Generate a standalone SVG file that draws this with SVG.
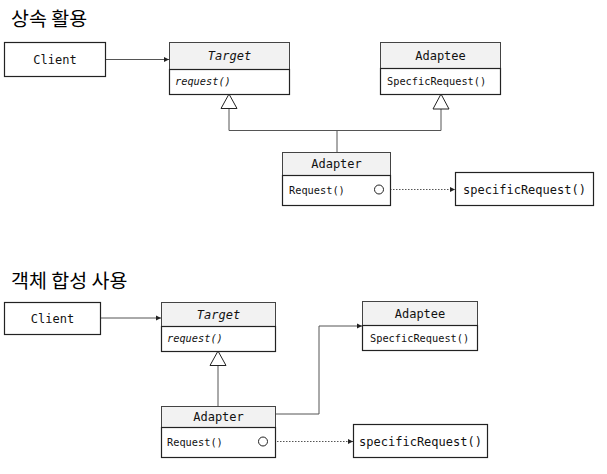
<svg xmlns="http://www.w3.org/2000/svg" width="607" height="474" viewBox="0 0 607 474">
<style>
.title{font-family:"Noto Sans CJK KR","Noto Sans",sans-serif;font-size:19.5px;fill:#000}
.box{fill:#fff;stroke:#222;stroke-width:1.2}
.hdr{fill:#f2f2f2;stroke:#444;stroke-width:1}
.div{stroke:#444;stroke-width:1}
.t12{font-family:"DejaVu Sans Mono","Liberation Mono",monospace;font-size:12px;fill:#111}
.t10{font-family:"DejaVu Sans Mono","Liberation Mono",monospace;font-size:10.3px;fill:#111}
.it{font-style:italic}
.mid{text-anchor:middle}
.conn{fill:none;stroke:#555;stroke-width:1}
.dot{fill:none;stroke:#555;stroke-width:1;stroke-dasharray:1.5 1.5}
.tri{fill:#fff;stroke:#222;stroke-width:1}
.circ{fill:#fff;stroke:#222;stroke-width:1}
</style>
<defs>
<marker id="arr" markerWidth="6" markerHeight="6" refX="5" refY="3" orient="auto" markerUnits="userSpaceOnUse">
<path d="M0,0.5 L5,3 L0,5.5 Z" fill="#222"/>
</marker>
</defs>
<rect width="607" height="474" fill="#fff"/>

<text class="title" x="11" y="25.5">상속 활용</text>
<text class="title" x="11" y="287.5">객체 합성 사용</text>

<g id="connectors">
<!-- top -->
<line class="conn" x1="106" y1="59.5" x2="169" y2="59.5" marker-end="url(#arr)"/>
<polyline class="conn" points="229,108 229,130.5 441,130.5 441,109"/>
<line class="conn" x1="337" y1="130.5" x2="337" y2="152"/>
<polygon class="tri" points="229,94 221,108.5 237,108.5"/>
<polygon class="tri" points="441,94 433,109 449,109"/>
<line class="dot" x1="384" y1="189.5" x2="455" y2="189.5" marker-end="url(#arr)"/>
<!-- bottom -->
<line class="conn" x1="100" y1="318" x2="161" y2="318" marker-end="url(#arr)"/>
<line class="conn" x1="218" y1="365" x2="218" y2="406"/>
<polygon class="tri" points="218,351 210,365.5 226,365.5"/>
<polyline class="conn" points="275,414 319,414 319,326 362,326" marker-end="url(#arr)"/>
<line class="dot" x1="268" y1="441.5" x2="353" y2="441.5" marker-end="url(#arr)"/>
</g>

<g id="client1">
<rect class="box" x="4.5" y="42.5" width="101" height="34"/>
<text class="t12 mid" x="55" y="63.5">Client</text>
</g>
<g id="target1">
<rect class="hdr" x="169.5" y="42.5" width="120" height="27"/>
<rect class="box" x="169.5" y="69.5" width="120" height="25"/>
<text class="t12 mid it" x="229.5" y="60">Target</text>
<text class="t10 it" x="175" y="85">request()</text>
</g>
<g id="adaptee1">
<rect class="hdr" x="380.5" y="42.5" width="120" height="26"/>
<rect class="box" x="380.5" y="68.5" width="120" height="26"/>
<text class="t12 mid" x="440.5" y="59.5">Adaptee</text>
<text class="t10" x="387" y="85">SpecficRequest()</text>
</g>
<g id="adapter1">
<rect class="hdr" x="282.5" y="152.5" width="108" height="23"/>
<rect class="box" x="282.5" y="175.5" width="108" height="30"/>
<text class="t12 mid" x="336.5" y="168">Adapter</text>
<text class="t10" x="289" y="194">Request()</text>
<circle class="circ" cx="379" cy="189.5" r="4.5"/>
</g>
<g id="specific1">
<rect class="box" x="455.5" y="172.5" width="138" height="33"/>
<text class="t12 mid" x="524.5" y="193.5">specificRequest()</text>
</g>

<g id="client2">
<rect class="box" x="4.5" y="302.5" width="96" height="32"/>
<text class="t12 mid" x="52.5" y="322.5">Client</text>
</g>
<g id="target2">
<rect class="hdr" x="161.5" y="302.5" width="114" height="24"/>
<rect class="box" x="161.5" y="326.5" width="114" height="25"/>
<text class="t12 mid it" x="218.5" y="318.5">Target</text>
<text class="t10 it" x="167" y="342">request()</text>
</g>
<g id="adaptee2">
<rect class="hdr" x="362.5" y="301.5" width="115" height="24"/>
<rect class="box" x="362.5" y="325.5" width="115" height="25"/>
<text class="t12 mid" x="420" y="317.5">Adaptee</text>
<text class="t10" x="370" y="342">SpecficRequest()</text>
</g>
<g id="adapter2">
<rect class="hdr" x="161.5" y="406.5" width="114" height="21"/>
<rect class="box" x="161.5" y="427.5" width="114" height="30"/>
<text class="t12 mid" x="218.5" y="421">Adapter</text>
<text class="t10" x="167" y="446">Request()</text>
<circle class="circ" cx="263" cy="441.5" r="4.5"/>
</g>
<g id="specific2">
<rect class="box" x="353.5" y="424.5" width="134" height="33"/>
<text class="t12 mid" x="420.5" y="445.5">specificRequest()</text>
</g>
</svg>
